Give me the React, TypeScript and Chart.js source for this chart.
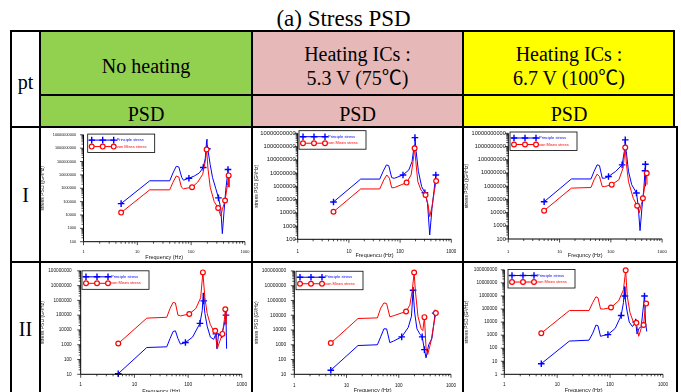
import React, { useEffect, useRef } from 'react';
import { Chart, registerables } from 'chart.js';

Chart.register(...registerables);

type Pt = [number, number];

// ---------------- texts ----------------
const TITLE = '(a) Stress PSD';
const ROW_HEADER = 'pt';
const CONDITION_LINES: string[][] = [
  ['No heating'],
  ['Heating ICs :', '5.3 V (75℃)'],
  ['Heating ICs :', '6.7 V (100℃)'],
];
const SUB_HEADER = 'PSD';
const ROW_LABELS = ['I', 'II'];
const SERIES_NAMES = ['Principle stress', 'von Mises stress'];
const X_MAJOR_TICKS = [1, 10, 100, 1000];

// ---------------- data: row I ----------------
const I_noHeat_principle: Pt[] = [[5, 7.1e4], [17, 3.6e6], [40, 3.6e6], [46, 1.4e7], [53, 4.4e7], [59, 3.9e7], [67, 6.3e6], [72, 4e6], [91, 5.6e6], [115, 8.3e6], [142, 1.4e7], [168, 3.6e7], [183, 1.7e8], [194, 3.5e9], [197, 4.7e9], [200, 8.9e8], [208, 5.1e8], [226, 5.8e7], [250, 6.3e6], [288, 9.1e5], [322, 1.9e5], [355, 3.3e4], [380, 400], [409, 1.9e4], [439, 6.9e5], [471, 8.3e6], [484, 2.5e7]];
const I_noHeat_principleMarks = [5, 91, 168, 200, 322, 484];
const I_noHeat_vonMises: Pt[] = [[5, 1.5e4], [17, 7.6e5], [40, 7.6e5], [46, 2.8e6], [53, 8.3e6], [59, 6.9e6], [66, 1.2e6], [72, 9.1e5], [104, 1.2e6], [132, 2.8e6], [164, 1.1e7], [183, 1e8], [194, 7.9e8], [205, 3.3e7], [226, 1.2e6], [268, 1e5], [318, 3.3e4], [355, 8.3e3], [380, 2.5e4], [427, 1.2e5], [471, 1.6e6], [498, 9.1e6], [505, 1.2e6]];
const I_noHeat_vonMisesMarks = [5, 104, 194, 318, 427, 498];

const I_v53_principle: Pt[] = [[5, 6.6e4], [17, 3.5e6], [40, 3.5e6], [46.5, 1.3e7], [54, 4.1e7], [60, 3.6e7], [68.5, 4.5e6], [77, 4e6], [114, 7.2e6], [148, 1.7e7], [171, 7.2e7], [189, 1.3e9], [195, 4.7e9], [206, 4.2e8], [228, 1.3e7], [264, 9.3e5], [305, 3.3e5], [343, 5.2e4], [379, 210], [420, 2.2e4], [457, 4e5], [499, 7.2e6]];
const I_v53_principleMarks = [5, 114, 195, 305, 499];
const I_v53_vonMises: Pt[] = [[5, 1.2e4], [17, 6.3e5], [40, 6.3e5], [48, 3e6], [55, 7.2e6], [62, 4e6], [68.5, 7.9e5], [77, 7.9e5], [134, 1.9e6], [164, 7.2e6], [179, 7.2e7], [192, 7.4e8], [203, 7.2e7], [222, 2.2e6], [256, 5.2e5], [314, 2.2e5], [352, 4e4], [379, 5.1e3], [420, 3e4], [471, 5.2e5], [506, 2.5e6]];
const I_v53_vonMisesMarks = [5, 134, 192, 314, 506];

const I_v67_principle: Pt[] = [[5, 6.6e4], [17, 3.5e6], [41, 3.5e6], [47, 1.3e7], [54, 4.1e7], [60, 3.6e7], [68, 4e6], [76, 4e6], [90, 5.4e6], [124, 1.3e7], [166, 4.1e7], [183, 4.2e8], [191, 3.2e9], [200, 4.2e8], [221, 1.3e7], [255, 1.3e6], [316, 3e5], [340, 3.9e4], [371, 430], [404, 2.2e4], [441, 7.1e5], [464, 1.45e7], [472, 4.6e7], [478, 1e6]];
const I_v67_principleMarks = [5, 90, 166, 191, 316, 464, 472];
const I_v67_vonMises: Pt[] = [[5, 1.4e4], [17, 7.1e5], [41, 7.9e5], [47, 3e6], [54, 8.1e6], [60, 5.4e6], [68, 9.3e5], [76, 9.3e5], [104, 1.3e6], [143, 3e6], [173, 2.3e7], [191, 8.3e8], [202, 4.1e7], [221, 2.2e6], [274, 1.2e5], [326, 3.3e4], [355, 9.1e3], [393, 3.9e4], [422, 1.2e5], [467, 1.7e6], [501, 9.5e6], [508, 1.3e6]];
const I_v67_vonMisesMarks = [5, 104, 191, 326, 422, 501];

// ---------------- data: row II ----------------
const II_noHeat_principle: Pt[] = [[5, 11], [17, 650], [40, 720], [46, 2.6e3], [52.5, 7.9e3], [58, 8.7e3], [64.6, 2.6e3], [72, 1.1e3], [89, 1.4e3], [121, 3.3e3], [166, 2.8e4], [183, 2.1e5], [191, 3.2e6], [195, 9.3e5], [205, 1.3e5], [226, 1.8e4], [259, 3.3e3], [298, 2.3e3], [329, 5.4e3], [343, 540], [367, 4.7e3], [422, 4.7e3], [485, 3.9e4], [506, 1e5], [520, 540]];
const II_noHeat_principleMarks = [5, 89, 166, 195, 329, 422, 506];
const II_noHeat_vonMises: Pt[] = [[5, 1.2e3], [17, 6.3e4], [40, 7.2e4], [46, 2.8e5], [52.5, 7.4e5], [58, 6.6e5], [64.6, 1e5], [72, 8.9e4], [105, 1.2e5], [139, 2.8e5], [171, 1.5e6], [188, 7.8e7], [205, 1.5e6], [226, 1.3e5], [259, 2.3e4], [298, 8.7e3], [319, 8.7e3], [348, 540], [394, 2e3], [434, 5.4e3], [472, 4.9e4], [492, 2.5e5], [506, 2.3e4]];
const II_noHeat_vonMisesMarks = [5, 105, 188, 319, 434, 492];

const II_v53_principle: Pt[] = [[5, 19], [16.6, 890], [39, 1e3], [45, 3.4e3], [52, 1.2e4], [58.5, 1.2e4], [67.5, 1.4e3], [80, 1.8e3], [114, 3.4e3], [152, 1.5e4], [175, 8.5e4], [188, 4.9e6], [202, 1.4e5], [223, 1.2e4], [251, 5.6e3], [281, 3.4e3], [310, 470], [333, 130], [374, 1e3], [432, 2.7e3], [498, 1.4e5]];
const II_v53_principleMarks = [5, 114, 188, 281, 310, 498];
const II_v53_vonMises: Pt[] = [[5, 1.3e3], [16.6, 6e4], [39, 6.6e4], [45, 3e5], [52, 6.8e5], [58.5, 6.2e5], [67.5, 7.8e4], [80, 9.3e4], [138, 1.8e5], [163, 4.8e5], [181, 4.5e6], [197, 7.8e7], [208, 4.5e6], [233, 8.5e4], [269, 1.2e4], [289, 9.1e3], [310, 7.4e4], [333, 600], [358, 220], [413, 1.6e3], [476, 3.2e4], [512, 1.4e5]];
const II_v53_vonMisesMarks = [5, 138, 197, 310, 512];

const II_v67_principle: Pt[] = [[5, 6.5], [17, 350], [40, 410], [47, 1.4e3], [54, 5.9e3], [59, 5.2e3], [66, 810], [76, 950], [91, 1.1e3], [125, 3.3e3], [162, 3.2e4], [179, 3.1e5], [187, 5.2e6], [191, 9.8e5], [206, 1e5], [230, 1e4], [265, 4.5e3], [305, 1e4], [323, 1.2e3], [352, 3.3e3], [388, 4.5e3], [447, 9.8e5], [467, 1e4], [493, 1.9e3]];
const II_v67_principleMarks = [5, 91, 162, 191, 305, 447];
const II_v67_vonMises: Pt[] = [[5, 1.4e3], [17, 7.6e4], [40, 7.6e4], [47, 3.1e5], [54, 8.7e5], [59, 7.2e5], [66, 1e5], [76, 1e5], [104, 1.3e5], [145, 4.2e5], [179, 3e6], [197, 9.1e7], [211, 9.8e5], [237, 5.6e4], [273, 1.1e4], [314, 8.7e3], [347, 810], [388, 3.3e3], [429, 5.9e3], [460, 1e5], [480, 2.6e5]];
const II_v67_vonMisesMarks = [5, 104, 197, 314, 429, 480];

// y-axis ranges (powers of ten)
const I_Y_RANGE = [1e2, 1e10];
const II_Y_RANGE_A = [1e1, 1e8];
const II_Y_RANGE_B = [1e0, 1e8];

const X_TITLES = ['Frequency (Hz)', 'Frequencu (Hz)', 'Frequncy (Hz)', 'Frequency (Hz)', 'Frequency (Hz)', 'Frequency (Hz)'];
const Y_TITLES = ['stress PSD ((G²/Hz)', 'stress PSD (G²/Hz)', 'stress PSD ((G²/Hz)', 'stress PSD (G²/Hz)', 'stress PSD (G²/Hz)', 'stress PSD (G²/Hz)'];

// ---------------- styles ----------------
const BLUE = '#0000ff';
const RED = '#ff0000';
const GREEN = '#92d050';
const PINK = '#e6b8b7';
const YELLOW = '#ffff00';
const SANS = '"Liberation Sans", Arial, sans-serif';
const SERIF = '"Liberation Serif", "Times New Roman", "Noto Sans CJK JP", serif';

interface PanelData {
  principle: Pt[];
  vonMises: Pt[];
  principleMarks: number[];
  vonMisesMarks: number[];
  yRange: number[];
  xTitle: string;
  yTitle: string;
}

interface Layout {
  L: number; T: number; R: number; B: number;
  yTitleX: number; xTitleY: number;
  yFont: number; xFont: number; yPad: number; xPad: number;
  legDx: number; legDy: number;
}

const isDecade = (v: number) => {
  const l = Math.log10(v);
  return Math.abs(l - Math.round(l)) < 1e-6;
};

function logTicks(min: number, max: number) {
  const out: { value: number; major: boolean }[] = [];
  const e0 = Math.round(Math.log10(min));
  const e1 = Math.round(Math.log10(max));
  for (let e = e0; e <= e1; e++) {
    out.push({ value: Number('1e' + e), major: true });
    if (e < e1) for (let k = 2; k <= 9; k++) out.push({ value: Number(k + 'e' + e), major: false });
  }
  return out;
}

function drawMarker(ctx: CanvasRenderingContext2D, kind: string, x: number, y: number, color: string) {
  ctx.save();
  ctx.strokeStyle = color;
  if (kind === 'cross') {
    ctx.lineWidth = 1.4;
    ctx.beginPath();
    ctx.moveTo(x - 3.3, y); ctx.lineTo(x + 3.3, y);
    ctx.moveTo(x, y - 3.3); ctx.lineTo(x, y + 3.3);
    ctx.stroke();
  } else {
    ctx.lineWidth = 1.2;
    ctx.fillStyle = '#fff';
    ctx.beginPath();
    ctx.arc(x, y, 2.4, 0, Math.PI * 2);
    ctx.fill();
    ctx.stroke();
  }
  ctx.restore();
}

function originPlugin(lay: Layout) {
  return {
    id: 'originLook',
    afterDatasetsDraw(chart: any) {
      const { ctx, chartArea: a, scales } = chart;
      const xs = scales.x;
      const ys = scales.y;
      ctx.save();
      ctx.strokeStyle = '#000';
      ctx.lineWidth = 1;
      ctx.beginPath();
      ctx.moveTo(a.left, a.top);
      ctx.lineTo(a.left, a.bottom);
      ctx.lineTo(a.right, a.bottom);
      ctx.stroke();
      ctx.lineWidth = 0.7;
      ctx.beginPath();
      for (const t of ys.ticks) {
        const p = ys.getPixelForValue(t.value);
        const len = isDecade(t.value) ? 3.5 : 2;
        ctx.moveTo(a.left, p);
        ctx.lineTo(a.left - len, p);
      }
      for (const t of xs.ticks) {
        const p = xs.getPixelForValue(t.value);
        const len = isDecade(t.value) ? 3.5 : 2;
        ctx.moveTo(p, a.bottom);
        ctx.lineTo(p, a.bottom + len);
      }
      ctx.stroke();

      // legend box
      const lx = a.left + lay.legDx;
      const ly = a.top + lay.legDy;
      const w = 67;
      const h = 18.5;
      ctx.fillStyle = '#fff';
      ctx.fillRect(lx, ly, w, h);
      ctx.strokeStyle = '#000';
      ctx.lineWidth = 0.8;
      ctx.strokeRect(lx, ly, w, h);
      const entries = [
        { name: SERIES_NAMES[0], color: BLUE, kind: 'cross', y: ly + 6 },
        { name: SERIES_NAMES[1], color: RED, kind: 'circle', y: ly + 12.5 },
      ];
      for (const e of entries) {
        ctx.strokeStyle = e.color;
        ctx.lineWidth = 1;
        ctx.beginPath();
        ctx.moveTo(lx + 1.6, e.y);
        ctx.lineTo(lx + 27.3, e.y);
        ctx.stroke();
        for (const dx of [4, 15, 26]) drawMarker(ctx, e.kind, lx + dx, e.y, e.color);
        ctx.fillStyle = e.color;
        ctx.font = `4px ${SANS}`;
        ctx.textBaseline = 'middle';
        ctx.textAlign = 'left';
        ctx.fillText(e.name, lx + 29, e.y);
      }
      ctx.restore();
    },
  };
}

function PsdPanel({ d, lay }: { d: PanelData; lay: Layout }) {
  const ref = useRef<HTMLCanvasElement>(null);
  const cx = Math.round(lay.yTitleX - 4);
  const cy = Math.round(lay.T - 6);
  const cw = Math.round(lay.R - cx + 9);
  const ch = Math.round(lay.xTitleY + 3.3 - cy);

  useEffect(() => {
    const padL = lay.yTitleX - 3 - cx;
    const yW = lay.L - cx - padL;
    const padT = lay.T - cy;
    const padR = cw - (lay.R - cx);
    const xH = ch - (lay.B - cy);
    const pts = (arr: Pt[]) => arr.map(([x, y]) => ({ x, y }));
    const chart = new Chart(ref.current as HTMLCanvasElement, {
      type: 'scatter',
      data: {
        datasets: [
          {
            label: SERIES_NAMES[1],
            data: pts(d.vonMises),
            showLine: true,
            borderColor: RED,
            borderWidth: 1,
            tension: 0,
            pointStyle: 'circle',
            pointRadius: (c: any) => (c.raw && d.vonMisesMarks.includes(c.raw.x) ? 2.4 : 0),
            pointHoverRadius: 0,
            pointBorderWidth: 1.2,
            pointBorderColor: RED,
            pointBackgroundColor: '#fff',
            clip: false,
          } as any,
          {
            label: SERIES_NAMES[0],
            data: pts(d.principle),
            showLine: true,
            borderColor: BLUE,
            borderWidth: 1,
            tension: 0,
            pointStyle: 'cross',
            pointRadius: (c: any) => (c.raw && d.principleMarks.includes(c.raw.x) ? 3.3 : 0),
            pointHoverRadius: 0,
            pointBorderWidth: 1.4,
            pointBorderColor: BLUE,
            pointBackgroundColor: BLUE,
            clip: false,
          } as any,
        ],
      },
      options: {
        animation: false,
        responsive: false,
        devicePixelRatio: 1,
        events: [],
        layout: { padding: { left: padL, top: padT, right: padR, bottom: 0 } },
        plugins: { legend: { display: false }, tooltip: { enabled: false } },
        scales: {
          x: {
            type: 'logarithmic',
            min: X_MAJOR_TICKS[0],
            max: X_MAJOR_TICKS[X_MAJOR_TICKS.length - 1],
            afterBuildTicks: (s: any) => { s.ticks = logTicks(X_MAJOR_TICKS[0], X_MAJOR_TICKS[X_MAJOR_TICKS.length - 1]); },
            afterFit: (s: any) => { s.height = xH; },
            grid: { display: false, drawTicks: false },
            border: { display: false },
            ticks: {
              autoSkip: false,
              maxRotation: 0,
              minRotation: 0,
              padding: lay.xPad,
              color: '#111',
              font: { size: lay.xFont, family: SANS },
              callback: (v: any) => (X_MAJOR_TICKS.includes(Number(v)) ? String(v) : ''),
            },
            title: { display: true, text: d.xTitle, color: '#111', padding: 0, font: { size: 5.5, family: SANS } },
          },
          y: {
            type: 'logarithmic',
            min: d.yRange[0],
            max: d.yRange[1],
            afterBuildTicks: (s: any) => { s.ticks = logTicks(d.yRange[0], d.yRange[1]); },
            afterFit: (s: any) => { s.width = yW; },
            grid: { display: false, drawTicks: false },
            border: { display: false },
            ticks: {
              autoSkip: false,
              padding: lay.yPad,
              color: '#111',
              font: { size: lay.yFont, family: SANS },
              callback: (v: any) => (isDecade(Number(v)) ? String(Number(v)) : ''),
            },
            title: { display: true, text: d.yTitle, color: '#111', padding: 0, font: { size: 5, family: SANS } },
          },
        },
      } as any,
      plugins: [originPlugin(lay)],
    });
    return () => chart.destroy();
  }, []);

  return (
    <canvas
      ref={ref}
      width={cw}
      height={ch}
      style={{ position: 'absolute', left: cx, top: cy, width: cw, height: ch }}
    />
  );
}

const PANELS: PanelData[] = [
  { principle: I_noHeat_principle, vonMises: I_noHeat_vonMises, principleMarks: I_noHeat_principleMarks, vonMisesMarks: I_noHeat_vonMisesMarks, yRange: I_Y_RANGE, xTitle: X_TITLES[0], yTitle: Y_TITLES[0] },
  { principle: I_v53_principle, vonMises: I_v53_vonMises, principleMarks: I_v53_principleMarks, vonMisesMarks: I_v53_vonMisesMarks, yRange: I_Y_RANGE, xTitle: X_TITLES[1], yTitle: Y_TITLES[1] },
  { principle: I_v67_principle, vonMises: I_v67_vonMises, principleMarks: I_v67_principleMarks, vonMisesMarks: I_v67_vonMisesMarks, yRange: I_Y_RANGE, xTitle: X_TITLES[2], yTitle: Y_TITLES[2] },
  { principle: II_noHeat_principle, vonMises: II_noHeat_vonMises, principleMarks: II_noHeat_principleMarks, vonMisesMarks: II_noHeat_vonMisesMarks, yRange: II_Y_RANGE_A, xTitle: X_TITLES[3], yTitle: Y_TITLES[3] },
  { principle: II_v53_principle, vonMises: II_v53_vonMises, principleMarks: II_v53_principleMarks, vonMisesMarks: II_v53_vonMisesMarks, yRange: II_Y_RANGE_A, xTitle: X_TITLES[4], yTitle: Y_TITLES[4] },
  { principle: II_v67_principle, vonMises: II_v67_vonMises, principleMarks: II_v67_principleMarks, vonMisesMarks: II_v67_vonMisesMarks, yRange: II_Y_RANGE_B, xTitle: X_TITLES[5], yTitle: Y_TITLES[5] },
];

const LAYOUTS: Layout[] = [
  { L: 83.5, T: 130.7, R: 247.5, B: 241.7, yTitleX: 43, xTitleY: 258, yFont: 3.8, xFont: 4, yPad: 7.5, xPad: 7.6, legDx: 4.2, legDy: -0.7 },
  { L: 297.7, T: 133.3, R: 457.3, B: 239.3, yTitleX: 257, xTitleY: 256, yFont: 5.8, xFont: 4.5, yPad: 2, xPad: 9.7, legDx: 1.3, legDy: -2.6 },
  { L: 508.3, T: 133.3, R: 668, B: 239, yTitleX: 467, xTitleY: 256, yFont: 5.6, xFont: 4.4, yPad: 2.5, xPad: 10, legDx: 1.7, legDy: -1.3 },
  { L: 80.7, T: 265, R: 245.7, B: 374.3, yTitleX: 43, xTitleY: 391.7, yFont: 4.7, xFont: 4.8, yPad: 9, xPad: 7.8, legDx: 1.3, legDy: 0 },
  { L: 294.3, T: 265.7, R: 455.7, B: 374.3, yTitleX: 257, xTitleY: 391, yFont: 4.9, xFont: 4.6, yPad: 8, xPad: 8.9, legDx: 1.7, legDy: 0.3 },
  { L: 504.3, T: 266, R: 667.3, B: 374.3, yTitleX: 467, xTitleY: 391, yFont: 4.7, xFont: 4.6, yPad: 7, xPad: 7.9, legDx: 3.7, legDy: -0.3 },
];

function TextAt({ cx, baseline, size, text, width = 200 }: { cx: number; baseline: number; size: number; text: string; width?: number }) {
  const lh = Math.round(size * 1.2);
  const top = baseline - (lh / 2 + 0.3375 * size);
  return (
    <div
      style={{
        position: 'absolute',
        left: cx - width / 2,
        width,
        top,
        fontSize: size,
        lineHeight: lh + 'px',
        textAlign: 'center',
        whiteSpace: 'nowrap',
      }}
    >
      {text}
    </div>
  );
}

const Rect = ({ l, t, w, h, bg }: { l: number; t: number; w: number; h: number; bg: string }) => (
  <div style={{ position: 'absolute', left: l, top: t, width: w, height: h, background: bg }} />
);

export default function App() {
  const colCenters = [146, 357.5, 569];
  const colBgs = [GREEN, PINK, YELLOW];
  const colLefts = [40, 252, 463];
  const colWidths = [212, 211, 212];
  return (
    <div
      style={{
        position: 'absolute',
        left: 0,
        top: 0,
        width: 681,
        height: 392,
        overflow: 'hidden',
        background: '#fff',
        fontFamily: SERIF,
        color: '#000',
      }}
    >
      <TextAt cx={343.5} baseline={26.5} size={23} text={TITLE} width={400} />

      {colBgs.map((bg, i) => (
        <Rect key={'bg' + i} l={colLefts[i]} t={31} w={colWidths[i]} h={96} bg={bg} />
      ))}

      <TextAt cx={25.5} baseline={89} size={20} text={ROW_HEADER} width={40} />
      {CONDITION_LINES.map((lines, i) =>
        lines.length === 1 ? (
          <TextAt key={'c' + i} cx={colCenters[i]} baseline={73} size={20} text={lines[0]} />
        ) : (
          <React.Fragment key={'c' + i}>
            <TextAt cx={colCenters[i]} baseline={61} size={20} text={lines[0]} />
            <TextAt cx={colCenters[i]} baseline={85} size={20} text={lines[1]} />
          </React.Fragment>
        )
      )}
      {colCenters.map((c, i) => (
        <TextAt key={'p' + i} cx={c} baseline={120.7} size={20} text={SUB_HEADER} />
      ))}
      <TextAt cx={25.5} baseline={202} size={20} text={ROW_LABELS[0]} width={40} />
      <TextAt cx={25.5} baseline={336} size={20} text={ROW_LABELS[1]} width={40} />

      {PANELS.map((p, i) => (
        <PsdPanel key={'panel' + i} d={p} lay={LAYOUTS[i]} />
      ))}

      {/* table rules */}
      <Rect l={10} t={30} w={665} h={2} bg="#000" />
      <Rect l={40} t={94} w={635} h={2} bg="#000" />
      <Rect l={10} t={126} w={667} h={2} bg="#000" />
      <Rect l={10} t={261} w={668} h={2} bg="#000" />
      <Rect l={10} t={30} w={2} h={362} bg="#000" />
      <Rect l={39} t={30} w={2} h={362} bg="#000" />
      <Rect l={251} t={30} w={2} h={362} bg="#000" />
      <Rect l={462} t={30} w={2} h={362} bg="#000" />
      <Rect l={673} t={30} w={2} h={98} bg="#000" />
      <Rect l={676} t={126} w={2} h={266} bg="#000" />
    </div>
  );
}
